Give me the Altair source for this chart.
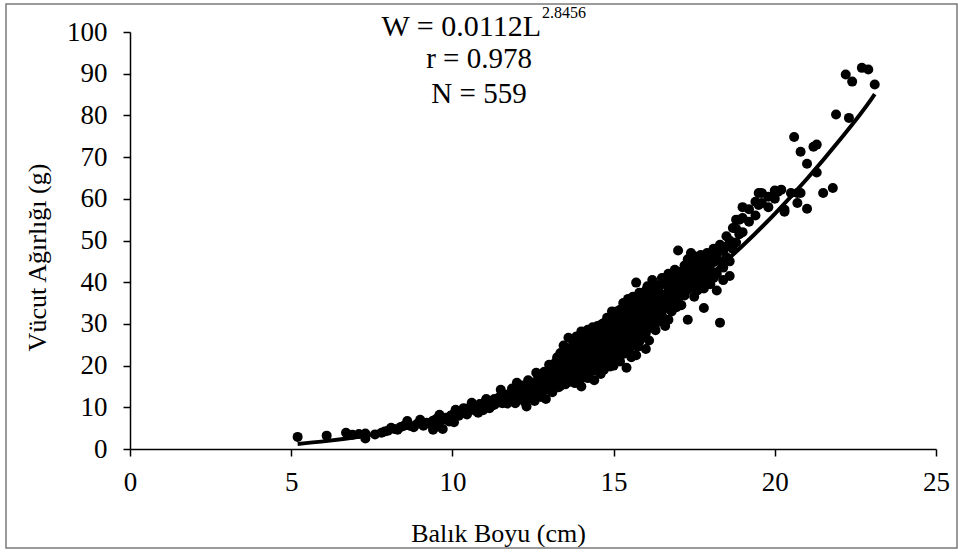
import altair as alt
import pandas as pd

# ---- scatter data (Balık Boyu cm, Vücut Ağırlığı g) ----
L_vals = [
    5.2, 6.1, 6.7, 6.9, 7.1, 7.3, 7.3, 7.6, 7.8, 8.0, 8.1, 8.2, 8.4, 8.6, 8.7, 8.9, 9.0, 9.1, 9.2, 9.4,
    9.4, 9.5, 9.6, 9.7, 9.8, 9.9, 10.0, 10.0,
    10.1, 10.2, 10.3, 10.4, 10.5, 10.6, 10.6, 10.7, 10.8, 10.9, 11.0, 11.0, 11.1, 11.2, 11.3, 11.3,
    11.4, 11.5, 11.5, 11.6, 11.7, 11.7, 11.8, 11.9, 12.0, 12.0, 12.0, 12.1, 12.2, 12.3, 12.3, 12.4,
    12.5, 12.5, 12.6, 12.6, 12.7, 12.7, 12.8, 12.8, 12.9, 12.9,
    13.0, 13.0, 13.0, 13.0, 13.0, 13.1, 13.1, 13.1, 13.1, 13.2, 13.2, 13.2, 13.2,
    13.3, 13.3, 13.3, 13.3, 13.3, 13.4, 13.4, 13.4, 13.4, 13.5, 13.5, 13.5, 13.5, 13.5, 13.5,
    13.6, 13.6, 13.6, 13.6, 13.6, 13.7, 13.7, 13.7, 13.7, 13.7, 13.8, 13.8, 13.8, 13.8, 13.8, 13.8,
    13.9, 13.9, 13.9, 13.9, 13.9, 14.0, 14.0, 14.0, 14.0, 14.0, 14.0, 14.0,
    14.1, 14.1, 14.1, 14.1, 14.1, 14.2, 14.2, 14.2, 14.2, 14.2, 14.2, 14.3, 14.3, 14.3, 14.3, 14.3,
    14.4, 14.4, 14.4, 14.4, 14.4, 14.4, 14.5, 14.5, 14.5, 14.5, 14.5, 14.5,
    14.6, 14.6, 14.6, 14.6, 14.6, 14.6, 14.7, 14.7, 14.7, 14.7, 14.7, 14.7,
    14.8, 14.8, 14.8, 14.8, 14.8, 14.8, 14.9, 14.9, 14.9, 14.9, 14.9, 14.9,
    15.0, 15.0, 15.0, 15.0, 15.0, 15.0, 15.0,
    15.1, 15.1, 15.1, 15.1, 15.1, 15.2, 15.2, 15.2, 15.2, 15.2, 15.2, 15.3, 15.3, 15.3, 15.3, 15.3,
    15.4, 15.4, 15.4, 15.4, 15.4, 15.4, 15.5, 15.5, 15.5, 15.5, 15.5, 15.5,
    15.6, 15.6, 15.6, 15.6, 15.6, 15.7, 15.7, 15.7, 15.7, 15.7, 15.7,
    15.8, 15.8, 15.8, 15.8, 15.8, 15.9, 15.9, 15.9, 15.9, 15.9, 16.0, 16.0, 16.0, 16.0, 16.0,
    16.1, 16.1, 16.1, 16.1, 16.2, 16.2, 16.2, 16.2, 16.3, 16.3, 16.3, 16.3, 16.4, 16.4, 16.4,
    16.5, 16.5, 16.5, 16.5, 16.6, 16.6, 16.6, 16.6, 16.7, 16.7, 16.7, 16.7, 16.8, 16.8, 16.8,
    16.9, 16.9, 16.9, 17.0, 17.0, 17.0, 17.0,
    17.1, 17.1, 17.1, 17.2, 17.2, 17.2, 17.3, 17.3, 17.3, 17.3, 17.4, 17.4, 17.4,
    17.5, 17.5, 17.5, 17.5, 17.6, 17.6, 17.6, 17.7, 17.7, 17.7, 17.8, 17.8, 17.8, 17.8,
    17.9, 17.9, 17.9, 18.0, 18.0, 18.0, 18.0, 18.1, 18.1, 18.1, 18.2, 18.2, 18.2,
    18.3, 18.3, 18.3, 18.4, 18.4, 18.4, 18.5, 18.5, 18.5,
    18.6, 18.6, 18.6, 18.7, 18.7, 18.8, 18.8, 18.8, 18.9, 18.9, 19.0, 19.0, 19.0,
    19.2, 19.2, 19.4, 19.4, 19.5, 19.5, 19.6, 19.6, 19.8, 19.8, 20.0, 20.0,
    20.1, 20.2, 20.3, 20.3, 20.5, 20.6, 20.7, 20.7, 20.8, 20.8, 21.0, 21.0, 21.2, 21.3, 21.3,
    21.5, 21.8, 21.9, 22.2, 22.3, 22.4, 22.7, 22.9, 23.1,
]
W_vals = [
    2.9, 3.2, 3.9, 3.4, 3.6, 2.5, 3.7, 3.5, 3.9, 4.4, 5.1, 4.8, 5.3, 6.7, 5.5, 6.0, 7.0, 5.6, 6.3, 4.6,
    6.8, 7.2, 8.2, 4.8, 7.5, 6.6, 8.2, 7.4,
    9.4, 8.0, 8.8, 9.6, 9.0, 11.1, 9.5, 10.2, 8.7, 10.5, 11.2, 10.0, 10.8, 11.5, 10.6, 12.0,
    11.1, 12.6, 14.2, 11.8, 12.8, 10.9, 13.4, 12.2, 15.9, 13.0, 11.6, 14.0, 12.5, 10.2, 13.8, 15.0,
    12.9, 14.3, 18.3, 16.1, 13.5, 15.2, 17.0, 14.0, 12.0, 16.2,
    20.2, 17.5, 15.6, 14.2, 16.8, 18.8, 16.0, 13.6, 19.5, 17.2, 15.1, 20.8, 18.0,
    16.5, 19.0, 21.6, 14.8, 17.8, 18.5, 16.2, 22.5, 20.0, 17.0, 19.3, 15.5, 24.0, 21.0, 18.2,
    26.7, 20.5, 17.6, 16.0, 22.8, 19.8, 18.0, 23.5, 21.2, 16.8, 20.8, 25.0, 17.5, 19.0, 22.0, 15.8,
    21.5, 18.5, 24.2, 20.0, 26.0, 28.2, 22.6, 19.5, 17.2, 21.0, 24.8, 15.0,
    20.5, 23.5, 18.2, 26.0, 21.8, 28.6, 22.0, 19.0, 24.5, 17.0, 20.8, 23.0, 25.6, 21.2, 18.6, 27.0,
    22.4, 26.5, 19.8, 24.0, 20.6, 16.5, 25.0, 21.5, 27.8, 23.2, 19.4, 29.5,
    24.6, 22.8, 26.2, 20.2, 28.0, 18.0, 23.8, 27.0, 21.0, 25.5, 30.2, 19.0,
    26.8, 22.4, 24.2, 29.0, 20.5, 31.5, 25.2, 28.5, 23.0, 21.5, 27.4, 19.8,
    32.2, 26.0, 24.0, 29.6, 22.0, 20.0, 27.8,
    27.0, 24.5, 30.5, 22.5, 33.0, 33.4, 26.2, 28.8, 23.5, 21.0, 31.0, 29.5, 25.0, 27.6, 35.0, 22.8,
    30.8, 26.8, 24.0, 33.0, 28.2, 19.5, 35.0, 28.0, 31.5, 25.6, 23.0, 29.8,
    32.6, 27.2, 30.0, 36.5, 24.8, 39.9, 29.2, 33.5, 26.5, 31.0, 22.5,
    37.5, 30.5, 28.0, 34.5, 25.8, 32.0, 28.6, 35.8, 30.0, 26.8, 34.0, 30.8, 38.0, 27.8, 24.0,
    31.5, 35.5, 29.0, 26.0, 33.0, 37.5, 30.2, 40.5, 34.8, 31.8, 28.5, 36.5, 38.8, 33.5, 30.5,
    41.0, 35.2, 32.0, 37.0, 36.0, 33.8, 39.5, 29.5, 38.0, 34.5, 42.0, 31.0, 40.0, 36.5, 33.0,
    37.8, 43.0, 35.0, 47.6, 39.0, 36.0, 41.5,
    38.0, 42.5, 34.5, 40.0, 44.0, 36.8, 45.5, 38.5, 41.8, 31.0, 42.8, 39.0, 47.0,
    44.0, 40.5, 46.2, 36.5, 43.0, 45.8, 38.0, 46.5, 41.2, 44.5, 42.5, 45.0, 38.5, 33.8,
    47.0, 44.0, 40.0, 46.0, 43.0, 39.5, 45.5, 44.8, 48.0, 41.0, 46.8, 42.0, 38.0,
    30.3, 45.0, 49.0, 47.5, 43.5, 40.5, 51.0, 46.0, 48.5,
    50.0, 45.0, 41.5, 53.0, 48.0, 52.8, 55.0, 49.5, 55.0, 51.5, 55.4, 52.0, 58.0,
    54.5, 57.5, 59.3, 56.0, 61.4, 58.5, 61.4, 59.0, 60.5, 58.0, 60.0, 62.0,
    61.7, 62.2, 56.9, 57.4, 61.4, 74.8, 59.0, 61.4, 71.3, 61.4, 57.6, 68.4, 72.5, 73.0, 66.3,
    61.4, 62.6, 80.2, 89.8, 79.4, 88.1, 91.4, 91.0, 87.4,
]

# further fish, grouped by length (cm) -> weights (g)
extra_by_length = {
    7.9: [4.2], 8.3: [4.6], 8.5: [5.6], 8.8: [5.2], 9.05: [6.2], 9.3: [6.0], 9.55: [5.4],
    9.65: [6.9], 9.85: [7.0], 9.95: [8.0], 10.05: [6.4],
    10.15: [8.4], 10.25: [9.0], 10.35: [9.8], 10.45: [8.3], 10.55: [10.0], 10.75: [9.0],
    10.85: [10.8], 10.95: [9.3], 11.05: [12.0], 11.15: [9.8], 11.25: [10.5], 11.35: [11.4],
    11.45: [12.4], 11.55: [11.0], 11.65: [13.0], 11.75: [11.8], 11.85: [12.0, 14.5],
    11.95: [13.5, 11.0], 12.05: [14.5], 12.15: [12.5, 15.2], 12.25: [13.5, 11.2],
    12.35: [14.8, 16.5], 12.45: [12.2, 13.6], 12.55: [16.0, 11.5], 12.65: [13.0, 14.8],
    12.75: [17.0, 12.5], 12.85: [15.5, 18.5], 12.95: [14.5, 17.8],
    13.05: [16.2, 18.3, 14.8], 13.15: [17.5, 20.0, 15.3], 13.25: [16.0, 18.8, 22.0],
    13.35: [17.2, 20.5, 15.2, 23.0], 13.45: [19.0, 21.8, 16.8, 24.8],
    13.55: [18.0, 20.2, 22.6, 16.4], 13.65: [19.2, 21.6, 24.2, 17.0],
    13.75: [20.0, 22.4, 18.5, 25.8], 13.85: [19.5, 21.5, 23.8, 17.6, 27.0],
    13.95: [20.5, 22.8, 18.8, 25.0, 16.5],
    14.05: [21.2, 23.8, 19.2, 26.8, 17.8], 14.15: [22.2, 24.6, 20.0, 27.5],
    14.25: [21.5, 23.2, 25.8, 19.6, 28.0], 14.35: [22.0, 24.4, 20.6, 26.8, 29.2],
    14.45: [23.0, 25.4, 21.0, 27.4, 18.8], 14.55: [24.0, 26.5, 22.2, 20.8, 28.8],
    14.65: [23.4, 25.8, 21.6, 27.6, 30.0], 14.75: [24.8, 22.6, 26.6, 28.8, 20.5],
    14.85: [25.6, 23.6, 27.8, 21.8, 30.5], 14.95: [24.6, 26.6, 22.8, 29.0, 33.0],
    15.05: [25.5, 28.0, 23.2, 30.0], 15.15: [26.0, 29.0, 24.2, 31.8, 21.8],
    15.25: [27.0, 30.0, 25.0, 32.5], 15.35: [26.2, 28.5, 31.5, 24.0, 34.0],
    15.45: [27.5, 29.8, 25.5, 32.0, 36.0], 15.55: [28.5, 26.5, 31.0, 33.8, 22.0],
    15.65: [29.0, 27.8, 32.0, 35.0, 25.2], 15.75: [30.0, 28.2, 33.0, 36.2, 24.5],
    15.85: [29.5, 31.5, 34.2, 27.0], 15.95: [30.5, 33.0, 29.0, 36.8],
    16.05: [32.0, 29.5, 35.0, 39.0], 16.15: [33.5, 30.5, 36.5], 16.25: [32.5, 35.5, 29.5, 38.5],
    16.35: [34.0, 37.5, 31.0], 16.45: [35.5, 33.0, 39.5], 16.55: [36.5, 34.0, 31.2, 40.5],
    16.65: [37.0, 35.0, 41.2], 16.75: [36.0, 39.2, 33.5], 16.85: [38.5, 35.5, 41.0],
    16.95: [39.5, 37.0, 34.0],
    17.15: [40.8, 37.0], 17.35: [43.5, 40.0], 17.55: [42.0, 38.8], 17.75: [43.0, 39.5],
    17.95: [45.0, 42.0],
}

# ---- fitted curve W = 0.0112 L^2.8456 ----
curve_L = [5.2, 6, 7, 8, 9, 10, 11, 12, 13, 14, 15, 16, 17, 18, 19, 20, 21, 22, 23, 23.1]
curve_W = [1.22, 1.83, 2.84, 4.16, 5.82, 7.85, 10.30, 13.19, 16.56, 20.45, 24.89, 29.89,
           35.51, 41.81, 48.74, 56.41, 64.80, 73.97, 83.97, 85.10]

x_ticks = [0, 5, 10, 15, 20, 25]
y_ticks = [0, 10, 20, 30, 40, 50, 60, 70, 80, 90, 100]

FONT = "Liberation Serif"
PW, PH = 806, 417

n = min(len(L_vals), len(W_vals))
rows_L = list(L_vals[:n])
rows_W = list(W_vals[:n])
for length, weights in extra_by_length.items():
    for w in weights:
        rows_L.append(length)
        rows_W.append(w)
pts = pd.DataFrame({"L": rows_L, "W": rows_W})
crv = pd.DataFrame({"L": curve_L, "W": curve_W})

xenc = alt.X("L:Q", scale=alt.Scale(domain=[0, 25], nice=False),
             axis=alt.Axis(values=x_ticks, title="Balık Boyu (cm)", grid=False,
                           labelFlush=False,
                           titleX=368, titleY=92, titleBaseline="alphabetic",
                           titleAnchor=None, titleAlign="center"))
yenc = alt.Y("W:Q", scale=alt.Scale(domain=[0, 100], nice=False),
             axis=alt.Axis(values=y_ticks, title="Vücut Ağırlığı (g)", grid=False,
                           labelFlush=False,
                           titleX=-93, titleY=225, titleBaseline="middle",
                           titleAlign="center", titleAngle=270))

points = alt.Chart(pts).mark_circle(size=100, color="black", opacity=1).encode(x=xenc, y=yenc)
line = alt.Chart(crv).mark_line(color="black", strokeWidth=4, interpolate="monotone").encode(
    x="L:Q", y="W:Q")

one = pd.DataFrame({"a": [0]})
frame = alt.Chart(one).mark_rect(fillOpacity=0, stroke="#7a7a7a", strokeWidth=1.5).encode(
    x=alt.value(-124), x2=alt.value(827), y=alt.value(-28), y2=alt.value(516))

eq_main = alt.Chart(one).mark_text(text="W = 0.0112L", font=FONT, fontSize=30, align="right",
                                   baseline="alphabetic", color="black").encode(
    x=alt.value(411), y=alt.value(4))
eq_sup = alt.Chart(one).mark_text(text="2.8456", font=FONT, fontSize=16, align="left",
                                  baseline="alphabetic", color="black").encode(
    x=alt.value(412), y=alt.value(-14))
r_txt = alt.Chart(one).mark_text(text="r = 0.978", font=FONT, fontSize=29, align="center",
                                 baseline="alphabetic", color="black").encode(
    x=alt.value(349), y=alt.value(36))
n_txt = alt.Chart(one).mark_text(text="N = 559", font=FONT, fontSize=29, align="center",
                                 baseline="alphabetic", color="black").encode(
    x=alt.value(349), y=alt.value(71))

chart = alt.layer(frame, points, line, eq_main, eq_sup, r_txt, n_txt).properties(
    width=PW, height=PH,
    autosize=alt.AutoSizeParams(type="none"),
    padding={"left": 130, "top": 32, "right": 22, "bottom": 103},
    background="white",
).configure_view(stroke=None).configure_axis(
    labelFont=FONT, titleFont=FONT, labelFontSize=27, titleFontSize=26,
    labelColor="black", titleColor="black", titleFontWeight="normal",
    domainColor="black", tickColor="black", domainWidth=1.5, tickWidth=1.5,
    tickSize=7,
).configure_axisX(labelPadding=13).configure_axisY(labelPadding=16)

chart.save("out.html", embed_options={"renderer": "svg", "actions": False})
